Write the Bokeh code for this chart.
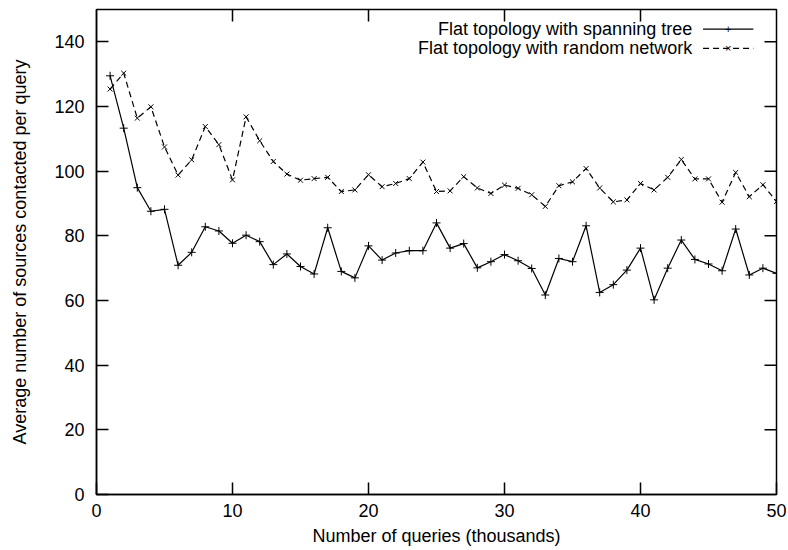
from bokeh.plotting import figure
from bokeh.models import Range1d, FixedTicker, Label, Arrow
from bokeh.embed import file_html
from bokeh.resources import INLINE

# ---- data ----
queries_k = list(range(1, 51))
spanning_tree = [129.5, 113.3, 94.9, 87.6, 88.2, 70.9, 74.9, 82.8, 81.5, 77.7,
                 80.2, 78.2, 71.1, 74.4, 70.5, 68.2, 82.5, 69.0, 67.0, 76.9,
                 72.5, 74.7, 75.4, 75.4, 84.0, 76.2, 77.6, 70.1, 72.0, 74.2,
                 72.3, 69.9, 61.7, 73.0, 72.0, 83.1, 62.5, 64.9, 69.4, 76.2,
                 60.2, 70.0, 78.7, 72.7, 71.3, 69.2, 82.1, 67.9, 70.0, 68.4]
random_network = [125.4, 130.3, 116.4, 119.9, 107.5, 98.8, 103.5, 113.8, 108.2, 97.3,
                  116.8, 109.4, 103.0, 99.1, 97.2, 97.7, 98.1, 93.7, 94.2, 98.9,
                  95.2, 96.2, 97.7, 102.8, 93.7, 93.9, 98.3, 94.8, 93.1, 95.7,
                  94.7, 92.7, 89.1, 95.5, 96.7, 100.8, 94.8, 90.5, 91.1, 96.2,
                  94.2, 98.1, 103.6, 97.6, 97.6, 90.4, 99.6, 92.1, 95.8, 90.6]
x_ticks = [0, 10, 20, 30, 40, 50]
y_ticks = [0, 20, 40, 60, 80, 100, 120, 140]
label_tree = "Flat topology with spanning tree"
label_random = "Flat topology with random network"
x_title = "Number of queries (thousands)"
y_title = "Average number of sources contacted per query"

FONT = "Liberation Sans"
FS = "18px"
X0, X1, Y0, Y1 = 0, 50, 0, 150

p = figure(width=786, height=550, output_backend="svg", toolbar_location=None,
           x_range=Range1d(X0, X1), y_range=Range1d(Y0, Y1),
           min_border_left=96, min_border_right=10, min_border_top=9, min_border_bottom=56)
p.background_fill_color = "white"
p.border_fill_color = "white"
p.outline_line_color = "black"
p.outline_line_width = 1.5
p.xgrid.visible = False
p.ygrid.visible = False

TICK_PX = 12
for ax, ticks in ((p.xaxis[0], x_ticks), (p.yaxis[0], y_ticks)):
    ax.ticker = FixedTicker(ticks=ticks)
    ax.axis_line_color = "black"
    ax.axis_line_width = 1.5
    ax.major_tick_line_color = "black"
    ax.major_tick_line_width = 1.5
    ax.major_tick_in = TICK_PX
    ax.major_tick_out = 0
    ax.minor_tick_line_color = None
    ax.major_label_text_font = FONT
    ax.major_label_text_font_size = FS
    ax.major_label_text_color = "black"
    ax.axis_label_text_font = FONT
    ax.axis_label_text_font_size = FS
    ax.axis_label_text_font_style = "normal"
    ax.axis_label_text_color = "black"

p.xaxis[0].axis_label = x_title
p.yaxis[0].axis_label = y_title
p.xaxis[0].major_label_standoff = 9
p.yaxis[0].major_label_standoff = 12
p.xaxis[0].axis_label_standoff = 6
p.yaxis[0].axis_label_standoff = 21

# mirrored inward ticks on top and right edges (gnuplot style)
frame_h_px = 550 - 9 - 56
frame_w_px = 786 - 96 - 10
dy = TICK_PX * (Y1 - Y0) / frame_h_px
dx = TICK_PX * (X1 - X0) / frame_w_px
for t in x_ticks[1:-1]:
    p.add_layout(Arrow(end=None, x_start=t, y_start=Y1, x_end=t, y_end=Y1 - dy,
                       line_color="black", line_width=1.5))
for t in y_ticks[1:]:
    p.add_layout(Arrow(end=None, x_start=X1, y_start=t, x_end=X1 - dx, y_end=t,
                       line_color="black", line_width=1.5))

# series
p.line(queries_k, spanning_tree, line_color="black", line_width=1.2)
p.scatter(queries_k, spanning_tree, marker="cross", size=8, line_color="black", line_width=1)
p.line(queries_k, random_network, line_color="black", line_width=1.2, line_dash="6 4")
p.scatter(queries_k, random_network, marker="x", size=7, line_color="black", line_width=1)

# legend (gnuplot style: text right-aligned, sample line to its right)
rows = [(label_tree, 143.9, "solid", "+"), (label_random, 138.0, "6 4", "×")]
for text, yy, dash, mk in rows:
    p.add_layout(Label(x=43.8, y=yy, text=text, text_align="right", text_baseline="middle",
                       text_font=FONT, text_font_size=FS, text_color="black"))
    p.add_layout(Arrow(end=None, x_start=44.6, y_start=yy, x_end=48.3, y_end=yy,
                       line_color="black", line_width=1.2, line_dash=dash))
    p.add_layout(Label(x=46.45, y=yy, text=mk, text_align="center", text_baseline="middle",
                       text_font=FONT, text_font_size="11px", text_color="black"))

open("out.html", "w").write(file_html(p, INLINE))
